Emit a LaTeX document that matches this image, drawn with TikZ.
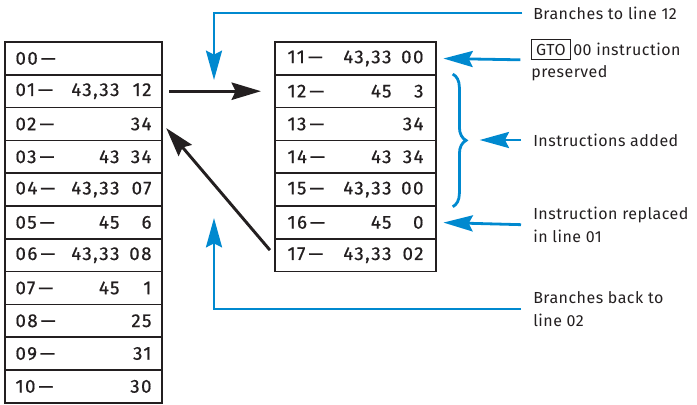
\documentclass[tikz,border=0pt]{standalone}
\usepackage{fontspec}
\setmainfont{Fira Sans}
\newfontfamily\cellfont[LetterSpace=8,FakeBold=0.6]{Fira Sans}
\newfontfamily\notefont[LetterSpace=3]{Fira Sans}
\usetikzlibrary{arrows.meta,decorations.pathreplacing}
\definecolor{hpblue}{RGB}{0,137,207}
\definecolor{inkblack}{RGB}{35,31,32}
\tikzset{
  cell/.style={draw=inkblack,line width=1.1pt,minimum height=24.6pt,inner sep=0pt,
    font=\cellfont\fontsize{14}{16}\selectfont,text=inkblack},
  note/.style={anchor=west,inner sep=0pt,align=left,
    font=\notefont\fontsize{12}{17}\selectfont,text=inkblack},
  jump/.style={line width=2.2pt,draw=inkblack,-{Stealth[length=22pt,width=13pt,inset=3pt]}},
  hint/.style={line width=2.1pt,draw=hpblue,-{Stealth[length=22pt,width=12pt,inset=3pt]}},
}
\newcommand{\cellrow}[3]{\makebox[37.5pt][l]{#1\,—}\makebox[40.5pt][r]{#2}\makebox[24pt][r]{#3}}
\setlength{\fboxsep}{3pt}
\setlength{\fboxrule}{0.7pt}

\begin{document}
\begin{tikzpicture}[x=0.75pt,y=-0.75pt]
  \useasboundingbox (0,0) rectangle (697,404);
  % original program
  \foreach \n/\m/\k [count=\i from 0] in {00/{}/{},01/{43,33}/12,02/{}/34,03/43/34,
      04/{43,33}/07,05/45/6,06/{43,33}/08,07/45/1,08/{}/25,09/{}/31,10/{}/30}
    \node[cell,minimum width=117.75pt] (L\n) at (83.5,{42+32.8*(\i+0.5)}) {\cellrow{\n}{\m}{\k}};
  % added subroutine
  \foreach \n/\m/\k [count=\i from 0] in {11/{43,33}/00,12/45/3,13/{}/34,14/43/34,
      15/{43,33}/00,16/45/0,17/{43,33}/02}
    \node[cell,minimum width=120.75pt] (R\n) at (355.5,{42+32.8*(\i+0.5)}) {\cellrow{\n}{\m}{\k}};
  % notes
  \node[note] (toTwelve) at (533,13) {Branches to line 12};
  \node[note] (keepGto) at (531,60) {\fbox{GTO}\,00 instruction\\preserved};
  \node[note] (added) at (533,140) {Instructions added};
  \node[note] (replaced) at (533,225) {Instruction replaced\\in line 01};
  \node[note] (backTwo) at (533,309) {Branches back to\\line 02};
  \coordinate (downTip) at (214,80);
  \coordinate (upTip) at (214,218);
  \coordinate (braceTip) at (465,140);
  % program flow
  \draw[jump,shorten <=5pt,shorten >=10pt] (L01.east) -- (R12.west);
  \draw[jump,shorten <=5pt,shorten >=4pt] (R17.west) -- (L02.east);
  % blue pointers
  \draw[hint,shorten <=8pt] (toTwelve.west) -| (downTip);
  \draw[hint,shorten <=8pt,shorten >=5pt] (keepGto.west) -- (R11.east);
  \draw[hint,shorten <=9pt,shorten >=11pt] (added.west) -- (braceTip);
  \draw[hint,shorten <=9pt,shorten >=5pt] (replaced.west) -- (R16.east);
  \draw[hint,shorten <=9pt] (backTwo.west) -| (upTip);
  \draw[hpblue,line width=2.1pt,decorate,decoration={brace,amplitude=10pt}]
    ([xshift=12pt]R12.north east) -- ([xshift=12pt]R15.south east);
\end{tikzpicture}
\end{document}
